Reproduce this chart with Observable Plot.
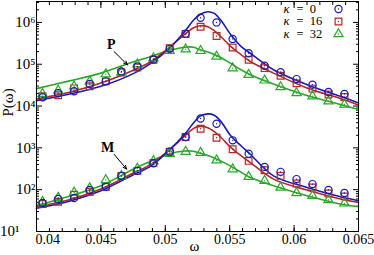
<!DOCTYPE html>
<html><head><meta charset="utf-8">
<script src="https://cdn.jsdelivr.net/npm/d3@7"></script>
<script src="https://cdn.jsdelivr.net/npm/@observablehq/plot@0.6"></script>
<style>body{margin:0;background:#fff}</style>
</head><body><div id="chart"></div>
<script>
// marker frequencies
const omega = [0.04047, 0.04168, 0.04292, 0.04413, 0.04538, 0.04659, 0.04783, 0.04908, 0.05034, 0.05158,
               0.05274, 0.05398, 0.05523, 0.05647, 0.05771, 0.05895, 0.06019, 0.06143, 0.06267, 0.06391];
// P group markers
const P_k0  = [1.62e4, 2.02e4, 2.25e4, 3.36e4, 3.89e4, 6.73e4, 8.85e4, 1.30e5, 2.33e5, 5.39e5, 1.29e6, 1.0e6, 4.03e5, 1.83e5, 9.19e4, 6.47e4, 4.41e4, 3.25e4, 2.17e4, 1.94e4];
const P_k16 = [1.71e4, 1.81e4, 2.65e4, 2.96e4, 3.89e4, 6.37e4, 8.38e4, 1.28e5, 2.41e5, 5.30e5, 7.90e5, 4.75e5, 2.50e5, 1.28e5, 8.06e4, 5.32e4, 3.49e4, 2.61e4, 1.88e4, 1.65e4];
const P_k32 = [1.96e4, 2.34e4, 2.96e4, 3.89e4, 5.80e4, 6.47e4, 1.00e5, 1.39e5, 2.09e5, 2.28e5, 2.09e5, 1.53e5, 8.06e4, 5.61e4, 4.11e4, 2.85e4, 2.05e4, 1.71e4, 1.30e4, 1.09e4];
// M group markers
const M_k0  = [48.1, 59.9, 63.3, 98.0, 117, 214, 282, 430, 811, 1815, 5050, 3760, 1514, 727, 351, 267, 179, 136, 98, 83.2];
const M_k16 = [45.6, 51.7, 75.8, 89.3, 117, 214, 282, 437, 811, 1815, 2858, 1746, 925, 488, 293, 214, 141, 113, 81.4, 69.1];
const M_k32 = [51.7, 64.3, 86.0, 109, 170, 214, 320, 488, 727, 811, 768, 507, 310, 203, 163, 113, 83.2, 71.8, 56.7, 47.1];
// fitted curves
const lineOmega = [0.040, 0.0424, 0.045, 0.0476, 0.0489, 0.0502, 0.0515, 0.0522, 0.0527, 0.0533, 0.0538, 0.0543, 0.0551, 0.0559, 0.0566, 0.0584, 0.061, 0.0636, 0.065];
const Pfit_k0  = [1.35e4, 1.88e4, 2.96e4, 6.13e4, 1.06e5, 2.24e5, 6.01e5, 1.14e6, 1.55e6, 1.80e6, 1.64e6, 1.14e6, 5.01e5, 2.64e5, 1.83e5, 7.38e4, 3.25e4, 1.71e4, 1.19e4];
const Pfit_k16 = [1.48e4, 2.07e4, 3.55e4, 7.38e4, 1.16e5, 2.37e5, 5.19e5, 7.48e5, 8.35e5, 7.90e5, 6.35e5, 4.6e5, 2.64e5, 1.68e5, 1.16e5, 6.13e4, 2.70e4, 1.51e4, 1.05e4];
const Pfit_k32 = [2.61e4, 3.89e4, 6.13e4, 1.16e5, 1.53e5, 2.09e5, 2.55e5, 2.55e5, 2.21e5, 1.96e5, 1.71e5, 1.45e5, 1.04e5, 7.3e4, 5.61e4, 3.36e4, 1.78e4, 1.09e4, 8.27e3];
const Mfit_k0  = [35.8, 51.7, 94.4, 235, 371, 820, 2104, 3970, 5730, 6500, 6050, 4355, 1916, 1109, 703, 214, 113, 67.9, 54.6];
const Mfit_k16 = [39.3, 56.1, 104, 257, 407, 843, 1916, 2922, 3260, 3020, 2450, 1815, 1010, 641, 444, 179, 98, 59.9, 49.8];
const Mfit_k32 = [41.5, 67.9, 124, 320, 488, 703, 843, 826, 743, 659, 574, 488, 361, 260, 195, 124, 71.8, 45.6, 39.3];
// ticks
const xMajor = [0.04, 0.045, 0.05, 0.055, 0.06, 0.065];
const xMajorLabels = ["0.04", "0.045", "0.05", "0.055", "0.06", "0.065"];
const yExponents = [1, 2, 3, 4, 5, 6];
const supDigits = {1:"\u00B9",2:"\u00B2",3:"\u00B3",4:"\u2074",5:"\u2075",6:"\u2076"};
// legend + annotations
const legendKappa = ["0", "16", "32"];
const legendSymbols = ["circle", "square", "triangle"];
const annotLabels = [{x: 0.0458, y: 3.03e5, t: "P"}, {x: 0.04553, y: 1.02e3, t: "M"}];
const annotArrows = [{x1: 0.04602, y1: 2.01e5, x2: 0.04706, y2: 9.7e4}, {x1: 0.04602, y1: 703, x2: 0.0470, y2: 310}];

const BLUE = "#1a1ab4", RED = "#b42828", GREEN = "#28a828";
const legendColors = [BLUE, RED, GREEN];
const xMinor = d3.range(40, 66).map(i => i / 1000);
const yMajor = yExponents.map(e => 10 ** e);
const yMinor = [];
for (let e = 1; e <= 6; e++) for (let m = 2; m <= 9; m++) { const v = m * 10 ** e; if (v < 10 ** 6.5) yMinor.push(v); }

const rows = (xs, ys) => xs.map((x, i) => ({x, y: ys[i]}));
const serif = "'Liberation Serif', 'Times New Roman', serif";
const symR = {circle: 3.6, square: 3.8, triangle: 3.4};

const dotsOf = (xs, ys, symbol, color) => [
  Plot.dot(rows(xs, ys), {x: "x", y: "y", symbol, r: symR[symbol], stroke: color, fill: "none", strokeWidth: 1.2}),
  Plot.dot(rows(xs, ys), {x: "x", y: "y", r: 0.7, fill: color, stroke: "none"})
];
const lineOf = (ys, color) => Plot.line(rows(lineOmega, ys), {x: "x", y: "y", stroke: color, strokeWidth: 1.6, curve: "catmull-rom"});

const rowDy = [7, 19.5, 32];
const legendMarks = legendKappa.flatMap((k, i) => [
  Plot.text([k], {frameAnchor: "top-right", dx: -69, dy: rowDy[i], text: d => "\u03BA", fontStyle: "italic", fontSize: 12.5, lineAnchor: "middle"}),
  Plot.text([k], {frameAnchor: "top-right", dx: -62, dy: rowDy[i], text: d => "=  " + d, textAnchor: "start", fontSize: 12.5, lineAnchor: "middle"}),
  Plot.dot([k], {frameAnchor: "top-right", dx: -20, dy: rowDy[i] + 0.5, symbol: legendSymbols[i], r: symR[legendSymbols[i]], stroke: legendColors[i], fill: "none", strokeWidth: 1.2}),
  Plot.dot([k], {frameAnchor: "top-right", dx: -20, dy: rowDy[i] + 0.5, r: 0.7, fill: legendColors[i], stroke: "none"})
]);

const chart = Plot.plot({
  width: 374, height: 255,
  marginLeft: 36, marginRight: 16, marginTop: 1, marginBottom: 24,
  style: {fontFamily: serif, fontSize: "14px", background: "#fff", color: "#000", overflow: "visible"},
  x: {domain: [0.04, 0.065]},
  y: {type: "log", domain: [10, 10 ** 6.5]},
  marks: [
    // ticks (inward)
    Plot.axisX(xMinor, {anchor: "bottom", tickSize: -3, fill: "none", label: null}),
    Plot.axisX(xMinor, {anchor: "top", tickSize: -3, fill: "none", label: null}),
    Plot.axisX(xMajor, {anchor: "bottom", tickSize: -6, fill: "none", label: null}),
    Plot.axisX(xMajor, {anchor: "top", tickSize: -6, fill: "none", label: null}),
    Plot.axisY(yMinor, {anchor: "left", tickSize: -3, fill: "none", label: null}),
    Plot.axisY(yMinor, {anchor: "right", tickSize: -3, fill: "none", label: null}),
    Plot.axisY(yMajor, {anchor: "left", tickSize: -6, fill: "none", label: null}),
    Plot.axisY(yMajor, {anchor: "right", tickSize: -6, fill: "none", label: null}),
    // tick labels
    Plot.axisX(xMajor.slice(1), {anchor: "bottom", tickSize: 0, tickPadding: 3, label: null, fontSize: 14,
      tickFormat: d => xMajorLabels[xMajor.indexOf(d)]}),
    Plot.axisX(xMajor.slice(0, 1), {anchor: "bottom", tickSize: 0, tickPadding: 3, label: null, fontSize: 14, textAnchor: "start", dx: -1,
      tickFormat: d => xMajorLabels[0]}),
    Plot.axisY(yMajor.slice(1), {anchor: "left", tickSize: 0, tickPadding: 1, label: null, fontSize: 15,
      tickFormat: d => "10" + supDigits[Math.round(Math.log10(d))]}),
    Plot.axisY(yMajor.slice(0, 1), {anchor: "left", tickSize: 0, tickPadding: 1, label: null, fontSize: 15, dx: -16,
      tickFormat: d => "10" + supDigits[Math.round(Math.log10(d))]}),
    // axis titles
    Plot.text(["P(\u03C9)"], {frameAnchor: "left", dx: -28, rotate: -90, text: d => d, fontSize: 15, lineAnchor: "middle"}),
    Plot.text(["\u03C9"], {frameAnchor: "bottom", dy: 15, dx: -3, text: d => d, fontSize: 15, lineAnchor: "middle"}),
    // curves
    lineOf(Pfit_k32, GREEN), lineOf(Pfit_k16, RED), lineOf(Pfit_k0, BLUE),
    lineOf(Mfit_k32, GREEN), lineOf(Mfit_k16, RED), lineOf(Mfit_k0, BLUE),
    // markers
    ...dotsOf(omega, P_k16, "square", RED), ...dotsOf(omega, P_k32, "triangle", GREEN), ...dotsOf(omega, P_k0, "circle", BLUE),
    ...dotsOf(omega, M_k16, "square", RED), ...dotsOf(omega, M_k32, "triangle", GREEN), ...dotsOf(omega, M_k0, "circle", BLUE),
    // annotations
    Plot.arrow(annotArrows, {x1: "x1", y1: "y1", x2: "x2", y2: "y2", stroke: "#000", strokeWidth: 1, headLength: 6, headAngle: 45}),
    Plot.text(annotLabels, {x: "x", y: "y", text: "t", fontWeight: "bold", fontSize: 14, lineAnchor: "middle"}),
    // legend
    ...legendMarks,
    Plot.frame({stroke: "#000", strokeWidth: 1})
  ]
});
document.getElementById("chart").appendChild(chart);
</script>
</body></html>
